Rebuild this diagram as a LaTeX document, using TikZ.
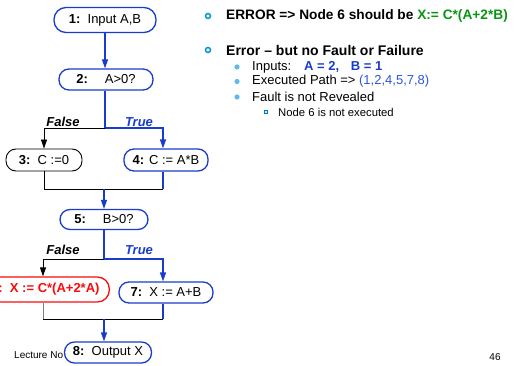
\documentclass[tikz,border=0pt]{standalone}
\usepackage{fontspec}
\setmainfont{Liberation Sans}
\usetikzlibrary{arrows.meta}
\definecolor{flowblue}{RGB}{25,60,205}
\definecolor{pathblue}{RGB}{45,85,225}
\definecolor{okgreen}{RGB}{10,150,20}
\definecolor{errred}{RGB}{250,10,10}
\definecolor{ringcyan}{RGB}{0,150,210}
\definecolor{dotblue}{RGB}{95,185,240}
\definecolor{sqblue}{RGB}{0,120,200}
\tikzset{
  stepbox/.style={draw=flowblue, line width=1.3pt, rounded corners=10pt, fill=white,
    inner sep=2pt, font=\fontsize{13}{15}\selectfont},
  blu/.style={draw=flowblue, line width=1.3pt},
  blk/.style={draw=black, line width=0.8pt},
  gry/.style={draw=gray, line width=0.8pt},
  tip/.style={-{Triangle[length=9pt,width=6pt]}},
  branch/.style={font=\bfseries\itshape\fontsize{13}{15}\selectfont, inner sep=0pt},
  toptext/.style={anchor=west, inner sep=0pt, font=\bfseries\fontsize{14}{16}\selectfont},
  subtext/.style={anchor=west, inner sep=0pt, font=\fontsize{13}{15}\selectfont},
  subsubtext/.style={anchor=west, inner sep=0pt, font=\fontsize{11.3}{13}\selectfont},
}
\begin{document}
\begin{tikzpicture}[x=1pt,y=-1pt]
\useasboundingbox (0,0) rectangle (516,366);

% footer text, partly hidden by the last step
\node[anchor=west, inner sep=0pt, font=\fontsize{10}{12}\selectfont] (lec) at (14,355) {Lecture No};
\node[inner sep=0pt, font=\fontsize{10}{12}\selectfont] (pg) at (495,357) {46};

% flow graph steps
\node[stepbox, minimum width=102pt, minimum height=25pt, rounded corners=12pt] (n1) at (105,20) {\textbf{1:}\ \ Input A,B};
\node[stepbox, minimum width=94pt, minimum height=21pt] (n2) at (106,79.5) {\textbf{2:}\hspace{1.3em}A>0?};
\node[stepbox, draw=black, line width=0.9pt, minimum width=76pt, minimum height=22pt] (n3) at (44,160) {\textbf{3:}\ \ C :=0};
\node[stepbox, minimum width=84pt, minimum height=22pt] (n4) at (166,160) {\textbf{4:} C := A*B};
\node[stepbox, minimum width=88pt, minimum height=20pt] (n5) at (104,219.5) {\textbf{5:}\hspace{1.3em}B>0?};
\node[stepbox, draw=errred, text=errred, anchor=east, minimum width=128pt, minimum height=25pt, rounded corners=12pt, font=\bfseries\fontsize{13}{15}\selectfont] (n6) at (110,289.5) {6:\ \ X := C*(A+2*A)};
\node[stepbox, minimum width=94pt, minimum height=21pt] (n7) at (166,292.5) {\textbf{7:}\ \ X := A+B};

% branch points and joins
\coordinate (s1) at (105,128);
\coordinate (j1) at (104,189);
\coordinate (s2) at (104,259);
\coordinate (d6) at (43,259);
\coordinate (j2) at (104,319);

\draw[blu, tip] (n1.south) -- (n1.south |- n2.north);
\draw[blu] (n2.south -| s1) -- (s1);
\draw[blk, tip] (s1) -| (n3.north);
\draw[blu, tip] (s1) -| ([xshift=-3pt]n4.north);
\node[branch] (f1) at (63,122) {False};
\node[branch, text=flowblue] (t1) at (139,122) {True};

\draw[blk] (n3.south) |- ([xshift=-3pt]n4.south |- j1);
\draw[blu] ([xshift=-3pt]n4.south) -- ([xshift=-3pt]n4.south |- j1);
\draw[blu, tip] (j1) -- (j1 |- n5.north);

\draw[blu] (n5.south -| s2) -- (s2);
\draw[blk] (s2) -- (d6);
\draw[blk, tip] (d6) -- (d6 |- n6.north);
\draw[blu, tip] (s2) -| ([xshift=-3pt]n7.north);
\node[branch] (f2) at (63,250) {False};
\node[branch, text=flowblue] (t2) at (139,250) {True};

\draw[gry] (d6 |- n6.south) -- (d6 |- j2);
\draw[blk] (d6 |- j2) -- ([xshift=-3pt]n7.south |- j2);
\draw[blu] ([xshift=-3pt]n7.south) -- ([xshift=-3pt]n7.south |- j2);
\node[stepbox, minimum width=87pt, minimum height=21pt] (n8) at (108,352.5) {\textbf{8:}\ \ Output X};
\draw[blu, tip] (j2) -- (j2 |- n8.north);

% notes on the right
\draw[ringcyan, line width=1.5pt] (208,16) circle (2.5pt);
\node[toptext, font=\bfseries\fontsize{13.7}{16}\selectfont] (e1) at (226,16) {ERROR => Node 6 should be \textcolor{okgreen}{X:= C*(A+2*B)}};
\draw[ringcyan, line width=1.5pt] (208,50) circle (2.5pt);
\node[toptext] (e2) at (226,50) {Error – but no Fault or Failure};

\fill[dotblue] (237,67) circle (2.6pt);
\node[subtext] (i1) at (252,67) {Inputs:\hspace{1em}\textcolor{flowblue}{\bfseries A = 2,\hspace{0.9em}B = 1}};
\fill[dotblue] (237,81.5) circle (2.6pt);
\node[subtext] (i2) at (252,81.5) {Executed Path => \textcolor{pathblue}{(1,2,4,5,7,8)}};
\fill[dotblue] (237,97) circle (2.6pt);
\node[subtext] (i3) at (252,97) {Fault is not Revealed};

\fill[sqblue] (263.8,109.8) rectangle (268.2,114.2);
\fill[white!70!dotblue] (265.2,111.2) rectangle (266.8,112.8);
\node[subsubtext] (i4) at (278,112) {Node 6 is not executed};
\end{tikzpicture}
\end{document}
